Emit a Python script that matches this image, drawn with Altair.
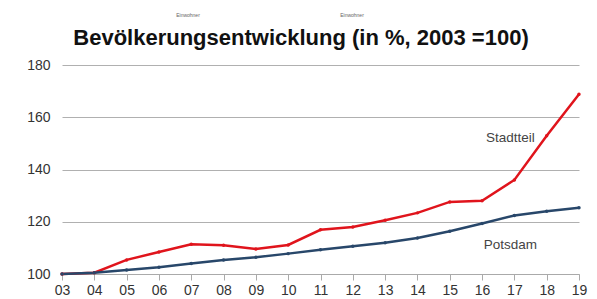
import altair as alt
import pandas as pd

year_labels = ["03", "04", "05", "06", "07", "08", "09", "10", "11", "12",
               "13", "14", "15", "16", "17", "18", "19"]
stadtteil = [100, 100.5, 105.4, 108.4, 111.4, 111.0, 109.6, 111.1, 116.9, 118.0,
             120.6, 123.4, 127.6, 128.0, 136.0, 152.9, 168.8]
potsdam = [100, 100.5, 101.5, 102.6, 104.0, 105.4, 106.4, 107.8, 109.3, 110.6,
           112.0, 113.8, 116.4, 119.3, 122.4, 124.0, 125.4]
series_names = ["Stadtteil", "Potsdam"]
label_year = ["17", "17"]
label_y = [152.0, 111.0]
title_text = "Bevölkerungsentwicklung (in %, 2003 =100)"
small_text = "Einwohner"

n = len(year_labels)
df = pd.DataFrame({
    "yr": year_labels * 2,
    "value": stadtteil + potsdam,
    "series": [series_names[0]] * n + [series_names[1]] * n,
})
labels = pd.DataFrame({"yr": label_year, "value": label_y, "t": series_names})

color = alt.Color("series:N", scale=alt.Scale(domain=series_names, range=["#e0141c", "#28476a"]), legend=None)

x = alt.X("yr:O", sort=year_labels, scale=alt.Scale(type="point", padding=0, domain=year_labels),
          axis=alt.Axis(title=None, grid=False, labelAngle=0, labelOverlap=False,
                        domainColor="#aaaaaa", tickColor="#aaaaaa", tickSize=6,
                        labelFontSize=14, labelColor="#333333", labelPadding=3,
                        labelFont="Liberation Sans"))
y = alt.Y("value:Q", scale=alt.Scale(domain=[100, 180], nice=False, zero=False),
          axis=alt.Axis(values=[100, 120, 140, 160, 180], title=None, domain=False, ticks=False,
                        gridColor="#b0b0b0", gridWidth=1, labelFontSize=14, labelColor="#333333",
                        labelPadding=12, labelFont="Liberation Sans"))

lines = alt.Chart(df).mark_line(strokeWidth=2.5).encode(x=x, y=y, color=color, detail="series:N")
points = alt.Chart(df).mark_point(filled=True, size=12, opacity=1).encode(x=x, y=y, color=color)

txt = alt.Chart(labels).mark_text(fontSize=13.5, color="#444444", font="Liberation Sans", dx=-4).encode(
    x=x, y=y, text="t:N")

title = alt.Chart(pd.DataFrame({"t": [title_text]})).mark_text(
    fontSize=22, fontWeight="bold", color="#111111", font="Liberation Sans", baseline="middle"
).encode(x=alt.value(239), y=alt.value(-27), text="t:N")

small = alt.Chart(pd.DataFrame({"t": [small_text, small_text], "px": [126, 290]})).mark_text(
    fontSize=5, color="#666666", font="Liberation Sans", baseline="middle"
).encode(x=alt.X("px:Q", scale=None), y=alt.value(-50), text="t:N")

chart = alt.layer(lines, points, txt, title, small).properties(
    width=517, height=209,
    autosize=alt.AutoSizeParams(type="none"),
    padding={"left": 54, "top": 57, "right": 10, "bottom": 25},
).configure_view(stroke=None)

chart.save("out.html", embed_options={"renderer": "svg", "actions": False})
